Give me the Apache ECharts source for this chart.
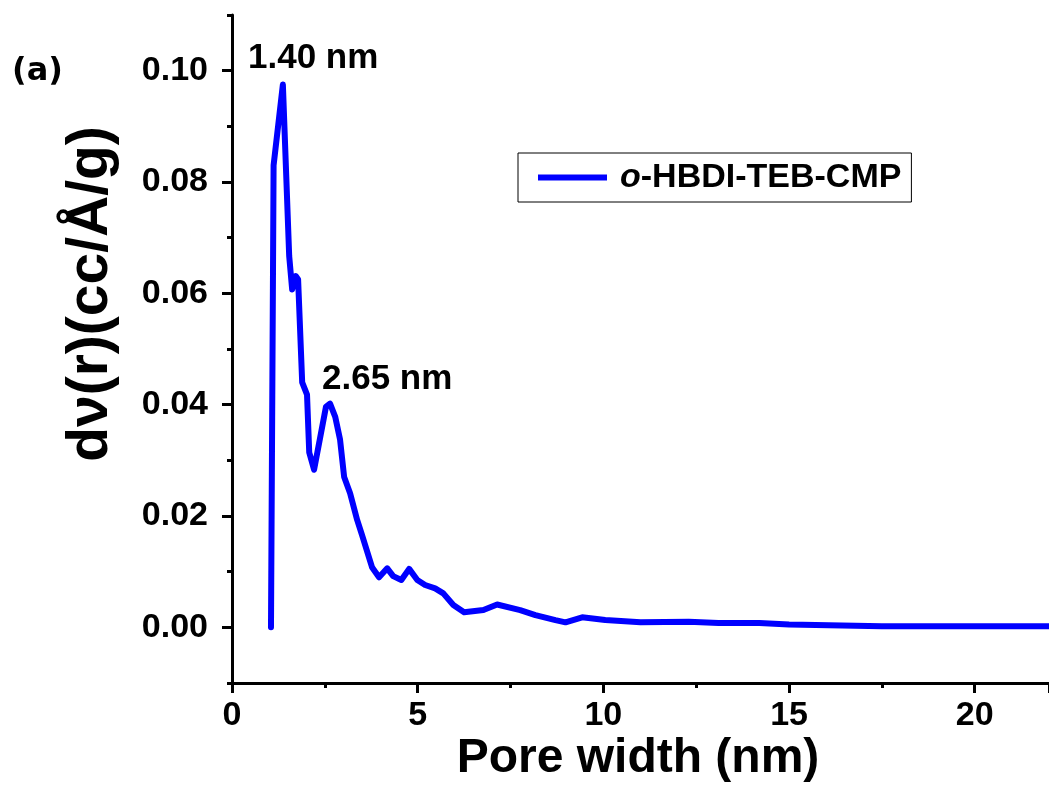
<!DOCTYPE html>
<html>
<head>
<meta charset="utf-8">
<script src="https://cdn.jsdelivr.net/npm/echarts@6/dist/echarts.min.js"></script>
<style>
  html, body { margin: 0; padding: 0; background: #fff; }
  #main { width: 1049px; height: 791px; }
</style>
</head>
<body>
<div id="main"></div>
<script>
// pore size distribution
const poreWidth = [1.05, 1.12, 1.37, 1.54, 1.62, 1.72, 1.78, 1.89, 2.02, 2.08, 2.21, 2.53, 2.64, 2.78, 2.91,
    3.02, 3.18, 3.37, 3.50, 3.77, 3.96, 4.18, 4.34, 4.56, 4.77, 4.99, 5.20, 5.47, 5.69, 5.96,
    6.25, 6.77, 7.14, 7.76, 8.17, 8.71, 8.98, 9.43, 10.05, 11.0, 12.3, 13.1, 14.2, 15.0, 17.5, 20.0, 22.0];
const dV = [0.0000, 0.0830, 0.0975, 0.0667, 0.0607, 0.0631, 0.0625, 0.0440, 0.0418, 0.0314, 0.0283, 0.0396, 0.0402, 0.0378, 0.0337,
    0.0270, 0.0241, 0.0193, 0.0166, 0.0108, 0.0090, 0.0106, 0.0092, 0.0085, 0.0105, 0.0085, 0.0076, 0.0070, 0.0061, 0.0040,
    0.0027, 0.0031, 0.0041, 0.0031, 0.0022, 0.0013, 0.0009, 0.0018, 0.0013, 0.0009, 0.0010, 0.0008, 0.0008, 0.0005, 0.0002, 0.0002, 0.0002];

const seriesName = 'o-HBDI-TEB-CMP';
const yTicks = [0, 0.02, 0.04, 0.06, 0.08, 0.10];
const yMinorTicks = [-0.01, 0.01, 0.03, 0.05, 0.07, 0.09, 0.11];
const xTicks = [0, 5, 10, 15, 20];

const arial = '"Liberation Sans", Arial, sans-serif';
const dejavu = '"DejaVu Sans", Verdana, sans-serif';

let chart = echarts.init(document.getElementById('main'), null, { renderer: 'canvas' });

const option = {
    animation: false,
    backgroundColor: '#fff',
    grid: { left: 232, right: 0, top: 15, bottom: 108, containLabel: false },
    legend: {
        data: [seriesName],
        left: 518,
        top: 153,
        orient: 'horizontal',
        icon: 'rect',
        itemWidth: 69,
        itemHeight: 6,
        borderColor: '#000',
        borderWidth: 1,
        borderRadius: 0,
        padding: [7, 10, 7, 20],
        formatter: () => '{it|o}-HBDI-TEB-CMP',
        textStyle: {
            color: '#000',
            fontFamily: arial,
            fontWeight: 'bold',
            fontSize: 34,
            lineHeight: 35,
            padding: [0, 0, 0, 8],
            rich: {
                it: { fontStyle: 'italic', fontWeight: 'bold', fontFamily: arial, fontSize: 34, color: '#000' }
            }
        }
    },
    xAxis: {
        type: 'value',
        min: 0,
        max: 22,
        interval: 5,
        axisLine: { onZero: false, lineStyle: { color: '#000', width: 3 } },
        axisTick: { show: true, inside: false, length: 10, lineStyle: { color: '#000', width: 3 } },
        minorTick: { show: true, splitNumber: 2, length: 5, lineStyle: { color: '#000', width: 3 } },
        splitLine: { show: false },
        axisLabel: {
            customValues: xTicks,
            margin: 16,
            color: '#000',
            fontFamily: arial,
            fontWeight: 'bold',
            fontSize: 34
        }
    },
    yAxis: [{
        type: 'value',
        min: -0.01,
        max: 0.11,
        axisLine: { show: true, onZero: false, lineStyle: { color: '#000', width: 3 } },
        axisTick: { show: true, customValues: yTicks, length: 10, lineStyle: { color: '#000', width: 3 } },
        splitLine: { show: false },
        axisLabel: {
            customValues: yTicks,
            margin: 24,
            color: '#000',
            fontFamily: arial,
            fontWeight: 'bold',
            fontSize: 34,
            formatter: v => v.toFixed(2)
        }
    }, {
        type: 'value',
        position: 'left',
        min: -0.01,
        max: 0.11,
        axisLine: { show: false },
        axisTick: { show: true, customValues: yMinorTicks, length: 5, lineStyle: { color: '#000', width: 3 } },
        splitLine: { show: false },
        axisLabel: { show: false }
    }],
    series: [{
        name: seriesName,
        type: 'line',
        yAxisIndex: 0,
        data: poreWidth.map((x, i) => [x, dV[i]]),
        showSymbol: false,
        smooth: false,
        color: '#0000ff',
        lineStyle: { color: '#0000ff', width: 6, join: 'round', cap: 'round' }
    }],
    graphic: [{
        type: 'text',
        left: 12,
        top: 56,
        style: { text: '(a)', fill: '#000', font: 'bold 32px ' + dejavu }
    }, {
        type: 'text',
        x: 248,
        y: 58,
        style: { text: '1.40 nm', fill: '#000', font: 'bold 35px ' + arial, textAlign: 'left', textVerticalAlign: 'middle' }
    }, {
        type: 'text',
        x: 322,
        y: 379,
        style: { text: '2.65 nm', fill: '#000', font: 'bold 35px ' + arial, textAlign: 'left', textVerticalAlign: 'middle' }
    }, {
        type: 'text',
        x: 638,
        y: 759,
        style: { text: 'Pore width (nm)', fill: '#000', font: 'bold 48px ' + arial, textAlign: 'center', textVerticalAlign: 'middle' }
    }, {
        type: 'text',
        x: 91,
        y: 294,
        rotation: Math.PI / 2,
        style: { text: 'dν(r)(cc/Å/g)', fill: '#000', font: 'bold 57px ' + arial, textAlign: 'center', textVerticalAlign: 'middle' }
    }]
};

chart.setOption(option);
</script>
</body>
</html>
